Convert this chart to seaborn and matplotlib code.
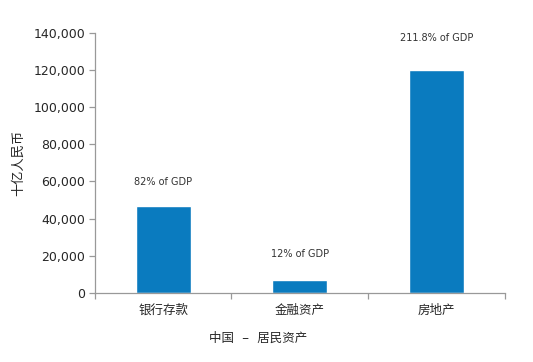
import matplotlib
matplotlib.use("Agg")
import matplotlib.pyplot as plt
import seaborn as sns
import pandas as pd
from matplotlib.ticker import FuncFormatter

categories = ["银行存款", "金融资产", "房地产"]
values = [46800, 7000, 120300]
gdp_labels = ["82% of GDP", "12% of GDP", "211.8% of GDP"]
label_y = [59500, 21000, 137300]
y_ticks = [0, 20000, 40000, 60000, 80000, 100000, 120000, 140000]

sns.set_theme(style="white")
plt.rcParams["font.family"] = ["Noto Sans CJK SC", "DejaVu Sans"]

df = pd.DataFrame({"cat": categories, "val": values})

fig = plt.figure(figsize=(5.33, 3.62), dpi=100)
ax = fig.add_axes([0.178, 0.191, 0.769, 0.718])
sns.barplot(data=df, x="cat", y="val", color="#0A7BBF", width=0.4,
            saturation=1, ax=ax)

ax.set_ylim(0, 140000)
ax.set_xlim(-0.5, 2.5)
ax.set_yticks(y_ticks)
ax.yaxis.set_major_formatter(FuncFormatter(lambda v, p: f"{int(v):,}"))
ax.set_xticks([0, 1, 2])
ax.set_xticklabels(categories, fontsize=9)
ax.set_xticks([-0.5, 0.5, 1.5, 2.5], minor=True)
ax.tick_params(axis="x", which="major", bottom=False, length=0, pad=8)
ax.tick_params(axis="x", which="minor", bottom=True, length=4, width=0.9,
               color="#999999", direction="out")
ax.tick_params(axis="y", left=True, length=4, width=0.9, color="#999999",
               direction="out", labelsize=9, pad=3)
for lbl in ax.get_yticklabels():
    lbl.set_family("DejaVu Sans")

for s in ["top", "right"]:
    ax.spines[s].set_visible(False)
for s in ["left", "bottom"]:
    ax.spines[s].set_color("#999999")
    ax.spines[s].set_linewidth(0.9)

for i, (t, yy) in enumerate(zip(gdp_labels, label_y)):
    ax.text(i, yy, t, ha="center", va="center", fontsize=7, color="#333333",
            family="DejaVu Sans")

ax.set_xlabel("")
ax.set_ylabel("十亿人民币", fontsize=9.5, labelpad=6)
fig.text(0.484, 0.065, "中国   –   居民资产", ha="center", va="center", fontsize=9)

fig.savefig("out.png", dpi=100, facecolor="white")
